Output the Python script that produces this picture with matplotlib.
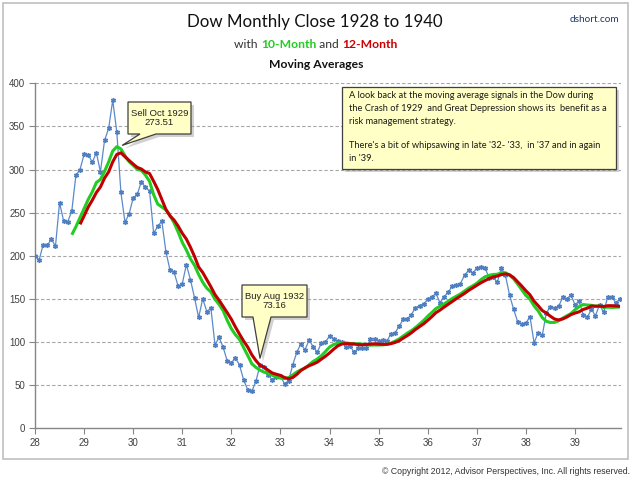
import matplotlib
matplotlib.use("Agg")
import matplotlib.pyplot as plt
import numpy as np
import pandas as pd
from matplotlib.patches import Polygon, Rectangle
from matplotlib.transforms import IdentityTransform

# ---------------- data ----------------
years = [1928, 1929, 1930, 1931, 1932, 1933, 1934, 1935, 1936, 1937, 1938, 1939]
close_1928 = [200.0, 195.0, 213.0, 212.0, 219.5, 211.0, 261.5, 240.4, 239.4, 252.2, 293.4, 300.0]
close_1929 = [317.5, 317.4, 308.5, 319.3, 297.4, 333.8, 347.7, 380.3, 343.5, 273.5, 238.9, 248.5]
close_1930 = [267.1, 271.1, 286.1, 279.2, 275.1, 226.3, 234.0, 240.4, 204.9, 183.4, 180.9, 164.6]
close_1931 = [167.6, 189.7, 172.4, 151.2, 128.5, 150.2, 135.4, 139.4, 96.6, 105.4, 93.9, 77.9]
close_1932 = [76.2, 81.4, 73.3, 56.1, 44.7, 42.8, 54.3, 73.2, 71.6, 61.9, 56.4, 60.0]
close_1933 = [60.9, 51.4, 55.4, 73.5, 88.1, 98.1, 90.8, 102.4, 94.5, 88.2, 98.7, 99.9]
close_1934 = [107.2, 103.5, 100.9, 100.5, 94.0, 95.7, 88.1, 92.6, 92.6, 93.5, 103.0, 104.0]
close_1935 = [101.7, 101.8, 100.8, 109.5, 110.6, 118.2, 126.2, 127.0, 131.9, 139.7, 142.3, 144.1]
close_1936 = [149.5, 152.5, 156.3, 145.7, 152.6, 157.7, 164.9, 166.3, 167.8, 177.4, 183.2, 179.9]
close_1937 = [185.7, 187.2, 186.4, 174.3, 175.0, 169.3, 185.5, 177.4, 154.6, 138.0, 123.5, 121.0]
close_1938 = [121.9, 129.6, 99.0, 111.0, 107.7, 133.9, 141.2, 139.3, 141.5, 151.7, 149.8, 154.8]
close_1939 = [143.3, 147.3, 131.8, 128.5, 138.0, 130.6, 143.0, 134.4, 152.5, 151.9, 145.7, 150.2]

x_labels = ["28", "29", "30", "31", "32", "33", "34", "35", "36", "37", "38", "39"]
y_ticks = [0, 50, 100, 150, 200, 250, 300, 350, 400]

sell_label = "Sell Oct 1929\n273.51"
buy_label = "Buy Aug 1932\n73.16"
sell_tip = (21.3, 328)   # where the callout pointer ends (month index, value)
buy_tip = (55.0, 81)

info_lines = [
    "A look back at the moving average signals in the Dow during",
    "the Crash of 1929  and Great Depression shows its  benefit as a",
    "risk management strategy.",
    "",
    "There's a bit of whipsawing in late '32- '33,  in '37 and in again",
    "in '39.",
]

close = (close_1928 + close_1929 + close_1930 + close_1931 + close_1932 + close_1933 +
         close_1934 + close_1935 + close_1936 + close_1937 + close_1938 + close_1939)
s = pd.Series(close)
ma10 = s.rolling(10).mean()
ma12 = s.rolling(12).mean()
idx = np.arange(len(close))

# ---------------- figure ----------------
W, H = 634, 480
fig = plt.figure(figsize=(W / 100, H / 100), dpi=100)
fig.patch.set_facecolor("white")

# outer border
fig.add_artist(Rectangle((3 / W, (H - 459) / H), (628 - 3) / W, (459 - 3) / H,
                         transform=fig.transFigure, fill=False, ec="#BFBFBF", lw=1.2))

ax = fig.add_axes([35 / W, (H - 428.3) / H, (621 - 35) / W, (428.3 - 83.3) / H])
ax.set_xlim(0, 143.25)
ax.set_ylim(0, 400)

for v in y_ticks[1:]:
    ax.axhline(v, color="#A6A6A6", lw=0.8, ls=(0, (3, 2)), zorder=0)

ax.plot(idx, close, color="#5B8ACB", lw=0.9, marker=(6, 2, 0), ms=3.6, mew=1.0,
        mec="#4F7FC0", zorder=3)
ax.plot(idx, ma10, color="#22CC22", lw=2.2, zorder=4, solid_capstyle="butt")
ax.plot(idx, ma12, color="#C00000", lw=2.2, zorder=5, solid_capstyle="butt")

for sp in ["top", "right"]:
    ax.spines[sp].set_visible(False)
for sp in ["left", "bottom"]:
    ax.spines[sp].set_color("#868686")
    ax.spines[sp].set_linewidth(1.0)

ax.set_yticks(y_ticks)
ax.set_yticklabels([str(v) for v in y_ticks])
ax.set_xticks(np.arange(len(x_labels)) * 12)
ax.set_xticklabels(x_labels)
ax.tick_params(axis="both", direction="out", length=4, width=0.8, color="#868686",
               labelsize=7, labelcolor="#404040", pad=3)
for t in ax.get_xticklabels() + ax.get_yticklabels():
    t.set_fontfamily("Liberation Sans")

# ---------------- titles ----------------
fig.text(315 / W, 1 - 22 / H, "Dow Monthly Close 1928 to 1940", ha="center", va="center",
         fontsize=12.2, family="Lato", color="#111111")
fig.text(594 / W, 1 - 20 / H, "dshort.com", ha="center", va="center",
         fontsize=7.2, family="Lato", color="#1F3864")

renderer = fig.canvas.get_renderer()
pieces = [("with ", "#333333", "normal"), ("10-Month", "#22CC22", "bold"),
          (" and ", "#333333", "normal"), ("12-Month", "#CC0000", "bold")]
texts = []
x = 0
for txt, col, wt in pieces:
    t = fig.text(x / W, 1 - 45 / H, txt, ha="left", va="center", fontsize=8.7,
                 family="Lato", color=col, fontweight=wt)
    bb = t.get_window_extent(renderer)
    texts.append(t)
    x += bb.width
shift = 316 - x / 2
cx = shift
for t in texts:
    bb = t.get_window_extent(renderer)
    t.set_x(cx / W)
    cx += bb.width
fig.text(316 / W, 1 - 65 / H, "Moving Averages", ha="center", va="center",
         fontsize=8.7, family="Lato", fontweight="bold", color="#111111")

fig.text(630 / W, 1 - 471 / H, "\u00a9 Copyright 2012, Advisor Perspectives, Inc. All rights reserved.",
         ha="right", va="center", fontsize=6.3, family="Liberation Sans",
         color="#333333")


# ---------------- callouts ----------------
def to_disp(px, py):
    return (px, H - py)


def callout(x0, y0, x1, y1, tb0, tb1, tip_data):
    tx, ty = ax.transData.transform(tip_data)
    pts = [to_disp(x0, y0), to_disp(x1, y0), to_disp(x1, y1), to_disp(tb1, y1),
           (tx, ty), to_disp(tb0, y1), to_disp(x0, y1)]
    sh = [(px + 3, py - 3) for px, py in pts]
    fig.add_artist(Polygon(sh, closed=True, transform=IdentityTransform(),
                           fc="#9A9A9A", ec="none", alpha=0.45, zorder=8))
    fig.add_artist(Polygon(pts, closed=True, transform=IdentityTransform(),
                           fc="#FFFFC6", ec="#3F3F3F", lw=0.9, zorder=9))


callout(128, 102, 191, 134, 140, 156, sell_tip)
fig.text(159.5 / W, 1 - 118 / H, sell_label, ha="center", va="center", fontsize=6.8,
         family="Liberation Sans", color="#222222", linespacing=1.05, zorder=10)

callout(242, 285, 307, 317, 253, 271, buy_tip)
fig.text(274.5 / W, 1 - 301 / H, buy_label, ha="center", va="center", fontsize=6.8,
         family="Liberation Sans", color="#222222", linespacing=1.05, zorder=10)

# info box
bx0, by0, bx1, by1 = 342, 87, 616, 169
fig.add_artist(Rectangle(((bx0 + 3), H - by1 - 3), bx1 - bx0, by1 - by0,
                         transform=IdentityTransform(), fc="#9A9A9A", ec="none",
                         alpha=0.45, zorder=8))
fig.add_artist(Rectangle((bx0, H - by1), bx1 - bx0, by1 - by0,
                         transform=IdentityTransform(), fc="#FFFFC6", ec="#3F3F3F",
                         lw=0.9, zorder=9))
line_y = [96, 108.7, 121.5, 134, 146, 158.3]
for ly, txt in zip(line_y, info_lines):
    if txt:
        fig.text(349 / W, 1 - ly / H, txt, ha="left", va="center", fontsize=6.65,
                 family="Lato", color="#1A1A1A", zorder=10)

fig.savefig("out.png", dpi=100)
